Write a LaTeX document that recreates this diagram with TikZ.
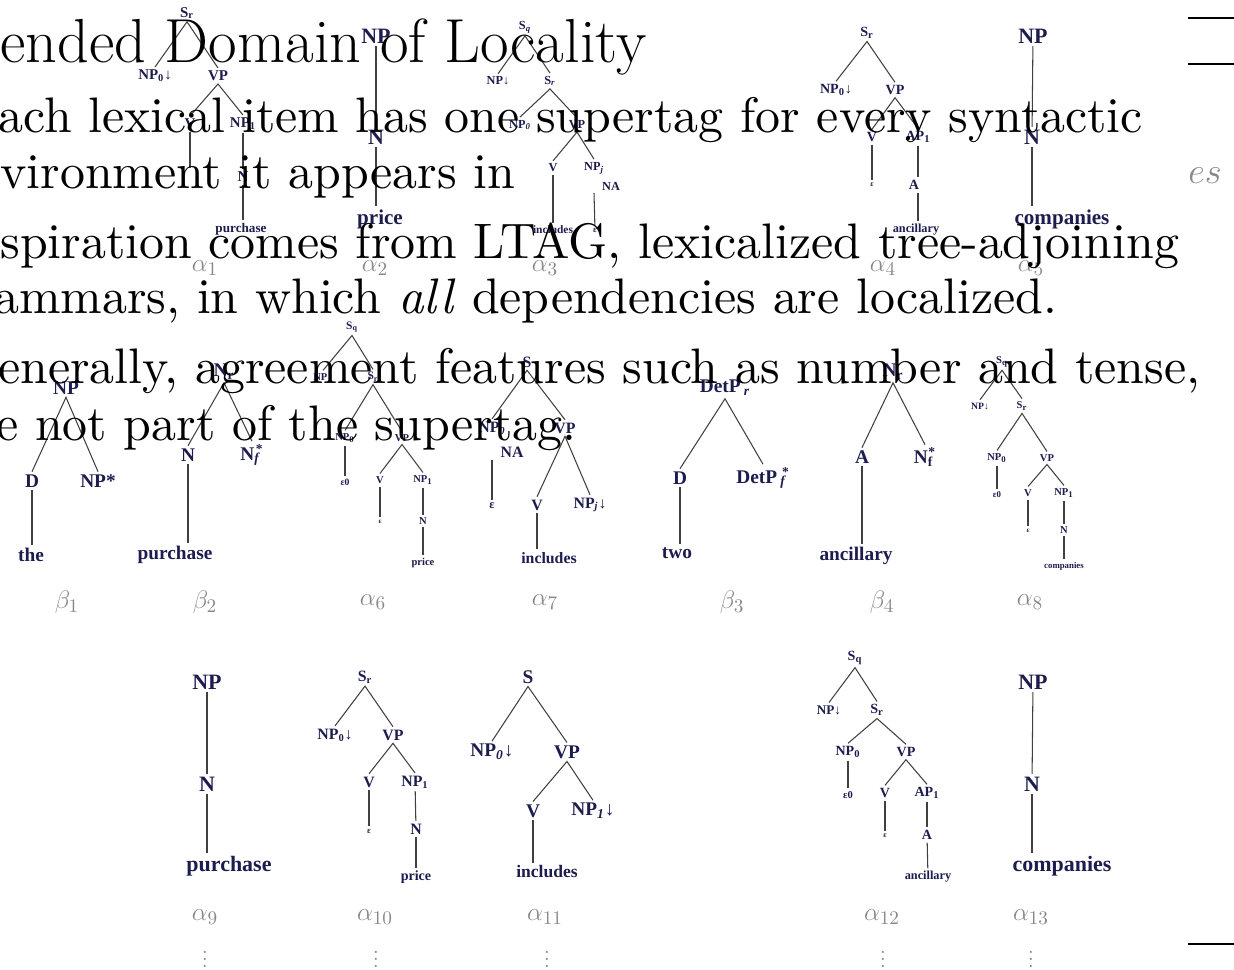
\documentclass[tikz,border=0pt]{standalone}
\usepackage{fontspec}
\newfontfamily\treefont{Liberation Serif}
\newfontfamily\slidefont{lmroman10-regular}[Extension=.otf, ItalicFont=lmroman10-italic]
\definecolor{navy}{RGB}{28,28,78}
\definecolor{labgray}{RGB}{135,135,135}
\tikzset{
  slide/.style={anchor=base west, inner sep=0pt, font=\slidefont\fontsize{28.4}{34}\selectfont},
  headline/.style={anchor=base west, inner sep=0pt, font=\fontsize{35.4}{40}\selectfont},
  tn/.style={text=navy, inner sep=1.5pt, font=\treefont\bfseries\fontsize{#1}{#1}\selectfont},
  lab/.style={text=labgray, inner sep=0pt, font=\fontsize{15}{15}\selectfont},
  edge/.style={draw=black!75, line width=0.6pt},
}
\begin{document}
\begin{tikzpicture}[x=0.02cm, y=-0.02cm]
  \useasboundingbox (0,0) rectangle (1234,970);

  % alpha 1
  \node[tn=8.5] (a1s) at (187,13) {S\textsubscript{r}};
  \node[tn=8.5] (a1np) at (155,76) {NP\textsubscript{0}↓};
  \node[tn=8.5] (a1vp) at (218,76) {VP};
  \node[tn=8.5] (a1v) at (190,124) {V};
  \node[tn=8.5] (a1np1) at (243,124) {NP\textsubscript{1}};
  \coordinate (a1e) at (190,168);
  \node[tn=8.5] (a1n) at (243,177) {N};
  \node[tn=7.5] (a1w) at (241,229) {purchase};
  \draw[edge] (a1np.north) -- (a1s.south) -- (a1vp.north);
  \draw[edge] (a1v.north) -- (a1vp.south) -- (a1np1.north);
  \draw[edge] (a1v) -- (a1e);
  \draw[edge] (a1np1) -- (a1n);
  \draw[edge] (a1n) -- (a1n |- a1w.north);

  % alpha 2
  \node[tn=12.5] (a2np) at (376,36) {NP};
  \node[tn=12.5] (a2n) at (376,137) {N};
  \node[tn=12] (a2w) at (380,219) {price};
  \draw[edge] (a2np) -- (a2n);
  \draw[edge] (a2n) -- (a2n |- a2w.north);

  % alpha 3
  \node[tn=7] (a3s) at (525,27) {S\textsubscript{\textit{q}}};
  \node[tn=7] (a3np) at (498,81) {NP↓};
  \node[tn=7] (a3sr) at (550,81) {S\textsubscript{\textit{r}}};
  \node[tn=7] (a3np0) at (520,125) {NP\textsubscript{\textit{0}}};
  \node[tn=7] (a3vp) at (577,125) {VP};
  \node[tn=7] (a3v) at (553,168) {V};
  \node[tn=7] (a3npj) at (594,168) {NP\textsubscript{\textit{j}}};
  \node[tn=7] (a3na) at (611,186) {NA};
  \node[tn=6.5] (a3w) at (553,230) {includes};
  \node[tn=5] (a3eps) at (595,230) {ε};
  \draw[edge] (a3np.north) -- (a3s.south) -- (a3sr.north);
  \draw[edge] (a3np0.north) -- (a3sr.south) -- (a3vp.north);
  \draw[edge] (a3v.north) -- (a3vp.south) -- (a3npj.north);
  \draw[edge] (a3v) -- (a3w);
  \draw[edge] (a3npj.south |- a3na.south) -- (a3eps);

  % alpha 4
  \node[tn=8] (a4s) at (867,33) {S\textsubscript{r}};
  \node[tn=8] (a4np) at (836,90) {NP\textsubscript{0}↓};
  \node[tn=8] (a4vp) at (895,90) {VP};
  \node[tn=8] (a4v) at (872,137) {V};
  \node[tn=8] (a4ap) at (918,137) {AP\textsubscript{1}};
  \node[tn=4.5] (a4eps) at (872,185) {ε};
  \node[tn=8] (a4a) at (914,185) {A};
  \node[tn=7] (a4w) at (916,230) {ancillary};
  \draw[edge] (a4np.north) -- (a4s.south) -- (a4vp.north);
  \draw[edge] (a4v.north) -- (a4vp.south) -- (a4ap.north);
  \draw[edge] (a4v) -- (a4eps);
  \draw[edge] (a4ap) -- (a4ap |- a4a.north);
  \draw[edge] (a4ap |- a4a.south) -- (a4ap |- a4w.north);

  % alpha 5
  \node[tn=12.5] (a5np) at (1033,36) {NP};
  \node[tn=12.5] (a5n) at (1032,137) {N};
  \node[tn=12] (a5w) at (1062,219) {companies};
  \draw[edge] (a5np) -- (a5n);
  \draw[edge] (a5n) -- (a5n |- a5w.north);

  % beta 1
  \node[tn=11] (b1np) at (66,388) {NP};
  \node[tn=11] (b1d) at (32,481) {D};
  \node[tn=11] (b1npx) at (98,481) {NP*};
  \node[tn=11] (b1w) at (31,555) {the};
  \draw[edge] (b1d.north) -- (b1np.south) -- (b1npx.north);
  \draw[edge] (b1d) -- (b1d |- b1w.north);

  % beta 2
  \node[tn=11] (b2n) at (224,372) {N\textsubscript{r}};
  \node[tn=11] (b2n1) at (188,455) {N};
  \node[tn=11] (b2nf) at (252,455) {N\textsubscript{\textit{f}}\kern-0.25em\textsuperscript{*}};
  \node[tn=11] (b2w) at (175,555) {purchase};
  \draw[edge] (b2n1.north) -- (b2n.south) -- (b2nf.north);
  \draw[edge] (b2n1) -- (b2n1 |- b2w.north);

  % alpha 6
  \node[tn=6.5] (a6s) at (352,327) {S\textsubscript{q}};
  \node[tn=6] (a6np) at (323,377) {NP↓};
  \node[tn=6.5] (a6sr) at (373,377) {S\textsubscript{r}};
  \node[tn=6] (a6np0) at (345,438) {NP\textsubscript{0}};
  \node[tn=6] (a6vp) at (402,438) {VP};
  \node[tn=5.5] (a6e0) at (345,482) {ε0};
  \node[tn=6] (a6v) at (380,480) {V};
  \node[tn=6] (a6np1) at (423,480) {NP\textsubscript{1}};
  \node[tn=4] (a6eps) at (380,522) {ε};
  \node[tn=6] (a6n) at (423,521) {N};
  \node[tn=6] (a6w) at (423,563) {price};
  \draw[edge] (a6np.north) -- (a6s.south) -- (a6sr.north);
  \draw[edge] (a6np0.north) -- (a6sr.south) -- (a6vp.north);
  \draw[edge] (a6np0) -- (a6e0);
  \draw[edge] (a6v.north) -- (a6vp.south) -- (a6np1.north);
  \draw[edge] (a6v) -- (a6eps);
  \draw[edge] (a6np1) -- (a6n);
  \draw[edge] (a6n) -- (a6w);

  % alpha 7
  \node[tn=9] (a7s) at (527,362) {S};
  \node[tn=9] (a7np) at (492,428) {NP\textsubscript{\textit{0}}};
  \node[tn=9] (a7na) at (512,452) {NA};
  \node[tn=9] (a7vp) at (565,428) {VP};
  \node[tn=7] (a7eps) at (492,506) {ε};
  \node[tn=9] (a7v) at (537,505) {V};
  \node[tn=9] (a7npj) at (590,505) {NP\textsubscript{\textit{j}}↓};
  \node[tn=9] (a7w) at (549,558) {includes};
  \draw[edge] (a7np.north) -- (a7s.south) -- (a7vp.north);
  \draw[edge] (a7np.south |- a7na.south) -- (a7eps);
  \draw[edge] (a7v.north) -- (a7vp.south) -- (a7npj.north);
  \draw[edge] (a7v) -- (a7v |- a7w.north);

  % beta 3
  \node[tn=11] (b3dp) at (725,388) {DetP\,\textsubscript{\textit{r}}};
  \node[tn=11] (b3d) at (680,478) {D};
  \node[tn=11] (b3dpf) at (763,478) {DetP\,\textsubscript{\textit{f}}\kern-0.25em\textsuperscript{*}};
  \node[tn=11] (b3w) at (677,553) {two};
  \draw[edge] (b3d.north) -- (b3dp.south) -- (b3dpf.north);
  \draw[edge] (b3d) -- (b3d |- b3w.north);

  % beta 4
  \node[tn=11] (b4n) at (893,372) {N\textsubscript{r}};
  \node[tn=11] (b4a) at (862,457) {A};
  \node[tn=11] (b4nf) at (925,457) {N\textsubscript{f}\kern-0.25em\textsuperscript{*}};
  \node[tn=11] (b4w) at (856,556) {ancillary};
  \draw[edge] (b4a.north) -- (b4n.south) -- (b4nf.north);
  \draw[edge] (b4a) -- (b4a |- b4w.north);

  % alpha 8
  \node[tn=6] (a8s) at (1002,362) {S\textsubscript{q}};
  \node[tn=5.5] (a8np) at (980,406) {NP↓};
  \node[tn=6] (a8sr) at (1022,406) {S\textsubscript{r}};
  \node[tn=6] (a8np0) at (997,458) {NP\textsubscript{0}};
  \node[tn=6] (a8vp) at (1047,458) {VP};
  \node[tn=5] (a8e0) at (997,495) {ε0};
  \node[tn=6] (a8v) at (1028,493) {V};
  \node[tn=6] (a8np1) at (1064,493) {NP\textsubscript{1}};
  \node[tn=4] (a8eps) at (1028,531) {ε};
  \node[tn=6] (a8n) at (1064,530) {N};
  \node[tn=5] (a8w) at (1064,566) {companies};
  \draw[edge] (a8np.north) -- (a8s.south) -- (a8sr.north);
  \draw[edge] (a8np0.north) -- (a8sr.south) -- (a8vp.north);
  \draw[edge] (a8np0) -- (a8e0);
  \draw[edge] (a8v.north) -- (a8vp.south) -- (a8np1.north);
  \draw[edge] (a8v) -- (a8eps);
  \draw[edge] (a8np1) -- (a8n);
  \draw[edge] (a8n) -- (a8w);

  % alpha 9
  \node[tn=12.5] (a9np) at (207,682) {NP};
  \node[tn=12.5] (a9n) at (207,784) {N};
  \node[tn=12.5] (a9w) at (229,866) {purchase};
  \draw[edge] (a9np) -- (a9n);
  \draw[edge] (a9n) -- (a9n |- a9w.north);

  % alpha 10
  \node[tn=9] (a10s) at (365,677) {S\textsubscript{r}};
  \node[tn=9] (a10np) at (335,735) {NP\textsubscript{0}↓};
  \node[tn=9] (a10vp) at (393,735) {VP};
  \node[tn=9] (a10v) at (369,782) {V};
  \node[tn=9] (a10np1) at (415,782) {NP\textsubscript{1}};
  \node[tn=5] (a10eps) at (369,831) {ε};
  \node[tn=9] (a10n) at (416,829) {N};
  \node[tn=8] (a10w) at (416,877) {price};
  \draw[edge] (a10np.north) -- (a10s.south) -- (a10vp.north);
  \draw[edge] (a10v.north) -- (a10vp.south) -- (a10np1.north);
  \draw[edge] (a10v) -- (a10eps);
  \draw[edge] (a10np1) -- (a10n);
  \draw[edge] (a10n) -- (a10w);

  % alpha 11
  \node[tn=11] (a11s) at (528,677) {S};
  \node[tn=11] (a11np) at (492,752) {NP\textsubscript{\textit{0}}↓};
  \node[tn=11] (a11vp) at (567,752) {VP};
  \node[tn=11] (a11v) at (533,811) {V};
  \node[tn=11] (a11np1) at (593,811) {NP\textsubscript{\textit{1}}↓};
  \node[tn=10] (a11w) at (547,872) {includes};
  \draw[edge] (a11np.north) -- (a11s.south) -- (a11vp.north);
  \draw[edge] (a11v.north) -- (a11vp.south) -- (a11np1.north);
  \draw[edge] (a11v) -- (a11v |- a11w.north);

  % alpha 12
  \node[tn=8] (a12s) at (855,658) {S\textsubscript{q}};
  \node[tn=7.5] (a12np) at (829,710) {NP↓};
  \node[tn=8] (a12sr) at (877,710) {S\textsubscript{r}};
  \node[tn=8] (a12np0) at (848,752) {NP\textsubscript{0}};
  \node[tn=8] (a12vp) at (906,752) {VP};
  \node[tn=6] (a12e0) at (848,795) {ε0};
  \node[tn=8] (a12v) at (885,793) {V};
  \node[tn=8] (a12ap) at (927,793) {AP\textsubscript{1}};
  \node[tn=4.5] (a12eps) at (885,836) {ε};
  \node[tn=8] (a12a) at (927,835) {A};
  \node[tn=7] (a12w) at (928,877) {ancillary};
  \draw[edge] (a12np.north) -- (a12s.south) -- (a12sr.north);
  \draw[edge] (a12np0.north) -- (a12sr.south) -- (a12vp.north);
  \draw[edge] (a12np0) -- (a12e0);
  \draw[edge] (a12v.north) -- (a12vp.south) -- (a12ap.north);
  \draw[edge] (a12v) -- (a12eps);
  \draw[edge] (a12ap) -- (a12a);
  \draw[edge] (a12a) -- (a12w);

  % alpha 13
  \node[tn=12.5] (a13np) at (1033,682) {NP};
  \node[tn=12.5] (a13n) at (1032,784) {N};
  \node[tn=12.5] (a13w) at (1062,866) {companies};
  \draw[edge] (a13np) -- (a13n);
  \draw[edge] (a13n) -- (a13n |- a13w.north);

  % tree names
  \node[lab] (n1) at (205,268) {$\alpha_1$};
  \node[lab] (n2) at (375,268) {$\alpha_2$};
  \node[lab] (n3) at (545,268) {$\alpha_3$};
  \node[lab] (n4) at (883,268) {$\alpha_4$};
  \node[lab] (n5) at (1031,268) {$\alpha_5$};
  \node[lab] (m1) at (67,602) {$\beta_1$};
  \node[lab] (m2) at (205,602) {$\beta_2$};
  \node[lab] (n6) at (373,602) {$\alpha_6$};
  \node[lab] (n7) at (545,602) {$\alpha_7$};
  \node[lab] (m3) at (732,602) {$\beta_3$};
  \node[lab] (m4) at (882,602) {$\beta_4$};
  \node[lab] (n8) at (1030,602) {$\alpha_8$};
  \node[lab] (n9) at (205,917) {$\alpha_9$};
  \node[lab] (n10) at (375,917) {$\alpha_{10}$};
  \node[lab] (n11) at (545,917) {$\alpha_{11}$};
  \node[lab] (n12) at (882,917) {$\alpha_{12}$};
  \node[lab] (n13) at (1031,917) {$\alpha_{13}$};
  \node[lab, anchor=south] (v9) at (205,968) {$\vdots$};
  \node[lab, anchor=south] (v10) at (376,968) {$\vdots$};
  \node[lab, anchor=south] (v11) at (547,968) {$\vdots$};
  \node[lab, anchor=south] (v12) at (883,968) {$\vdots$};
  \node[lab, anchor=south] (v13) at (1031,968) {$\vdots$};

  % slide text on top
  \node[headline] (title) at (0,62) {ended Domain of Locality};
  \node[slide] (l1) at (-2,132) {ach lexical item has one supertag for every syntactic};
  \node[slide] (l2) at (0,188) {vironment it appears in};
  \node[slide] (l3) at (0,258) {spiration comes from LTAG, lexicalized tree-adjoining};
  \node[slide] (l4) at (-6,313) {ammars, in which \textit{all} dependencies are localized.};
  \node[slide] (l5) at (-2,383) {enerally, agreement features such as number and tense,};
  \node[slide] (l6) at (-4,440) {e not part of the supertag.};
  \node[text=labgray, anchor=base west, inner sep=0pt, font=\fontsize{20}{20}\selectfont] (es) at (1188,183) {$es$};
  \draw[line width=1.2pt] (1188,18) -- (1234,18);
  \draw[line width=1.2pt] (1188,64) -- (1234,64);
  \draw[line width=1.2pt] (1188,944) -- (1234,944);
\end{tikzpicture}
\end{document}
